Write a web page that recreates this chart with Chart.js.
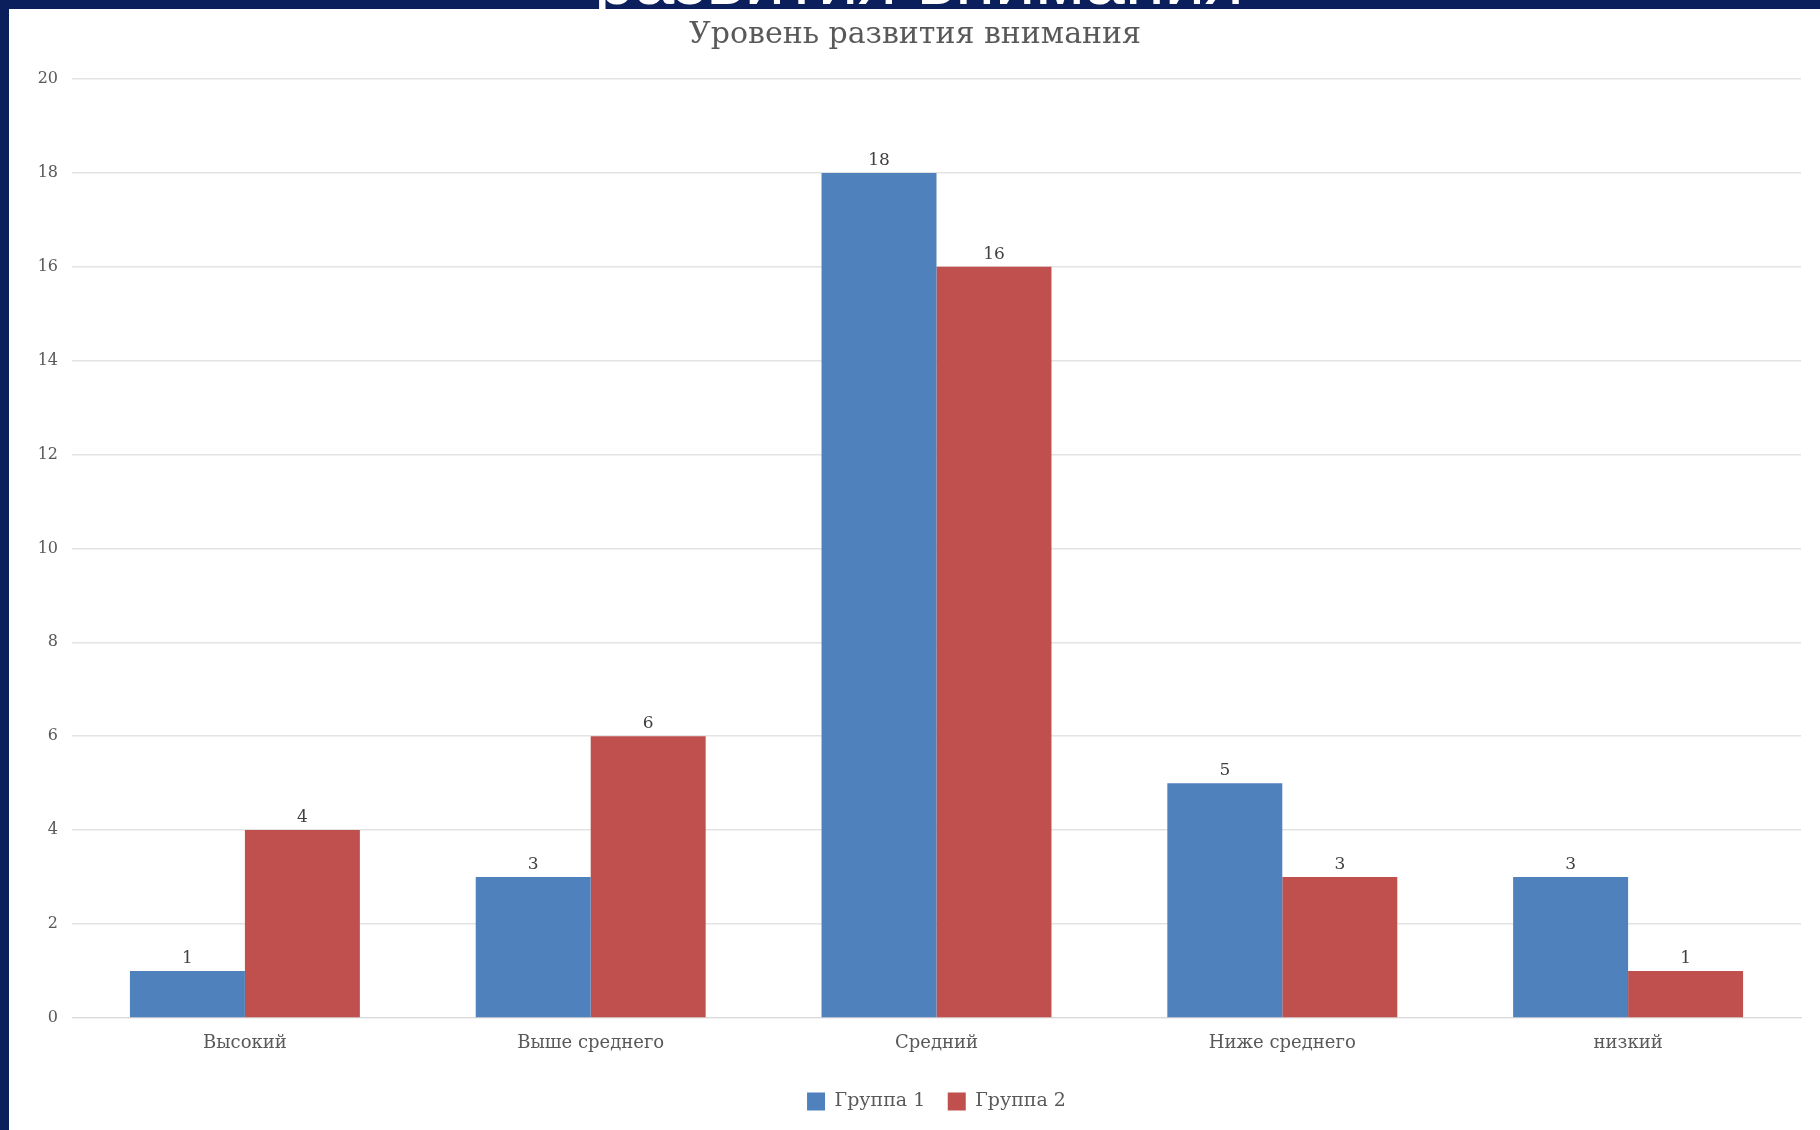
<!DOCTYPE html>
<html>
<head>
<meta charset="utf-8">
<script src="https://cdn.jsdelivr.net/npm/chart.js@4"></script>
<style>
    html, body { margin: 0; padding: 0; }
    body { width: 1820px; height: 1130px; background: #0b1f5c; position: relative; overflow: hidden; }
    #sheet { position: absolute; left: 9px; top: 9px; width: 1811px; height: 1121px; background: #fff; }
    #slideTitle {
        position: absolute; left: 0; top: 0; width: 1820px; height: 9px; overflow: hidden;
    }
    #slideTitle span {
        position: absolute; left: 0; width: 1838px; top: -57px; text-align: center;
        font-family: "Liberation Sans", Arial, sans-serif; font-size: 72px; line-height: 1; color: #fff;
    }
    #myChart { position: absolute; left: 9px; top: 9px; }
</style>
</head>
<body>
<div id="sheet"></div>
<div id="slideTitle"><span>развития внимания</span></div>
<canvas id="myChart" width="1811" height="1121"></canvas>

<script>
// data
var categories = ['Высокий', 'Выше среднего', 'Средний', 'Ниже среднего', 'низкий'];
var group1 = [1, 3, 18, 5, 3];
var group2 = [4, 6, 16, 3, 1];
var seriesNames = ['Группа 1', 'Группа 2'];
var yTicks = [0, 2, 4, 6, 8, 10, 12, 14, 16, 18, 20];

var textColor = '#595959';
var serif = '"DejaVu Serif", "Liberation Serif", serif';

// value labels above each bar
var barValues = {
    id: 'barValues',
    afterDatasetsDraw(chart) {
        var ctx = chart.ctx;
        ctx.save();
        ctx.font = '17px ' + serif;
        ctx.fillStyle = '#404040';
        ctx.textAlign = 'center';
        ctx.textBaseline = 'bottom';
        chart.data.datasets.forEach((ds, i) => {
            chart.getDatasetMeta(i).data.forEach((bar, j) => {
                ctx.fillText(ds.data[j], bar.x, bar.y - 4);
            });
        });
        ctx.restore();
    }
};

document.addEventListener("DOMContentLoaded", () => {
    var ctx = document.getElementById('myChart').getContext('2d');
    var chart = new Chart(ctx, {
        type: 'bar',
        data: {
            labels: categories,
            datasets: [{
                label: seriesNames[0],
                backgroundColor: '#4f81bd',
                data: group1
            },
            {
                label: seriesNames[1],
                backgroundColor: '#c0504d',
                data: group2
            }]
        },
        options: {
            responsive: false,
            animation: false,
            categoryPercentage: 0.665,
            barPercentage: 1,
            layout: {
                // a bit of left padding nudges the title right, the y axis is narrowed to match
                padding: { left: 20, right: 19, top: 0, bottom: 9 }
            },
            plugins: {
                title: {
                    display: true,
                    text: 'Уровень развития внимания',
                    color: textColor,
                    font: { family: serif, size: 30, weight: 'normal' },
                    padding: { top: 8, bottom: 26 }
                },
                legend: {
                    position: 'bottom',
                    fullSize: false,
                    labels: {
                        color: textColor,
                        font: { family: serif, size: 19 },
                        boxWidth: 18,
                        boxHeight: 18,
                        padding: 22.5
                    }
                },
                tooltip: { enabled: false }
            },
            scales: {
                x: {
                    grid: { display: false, drawTicks: false },
                    border: { display: true, color: '#d9d9d9' },
                    ticks: { color: textColor, font: { family: serif, size: 18 }, padding: 15 }
                },
                y: {
                    min: 0,
                    max: 20,
                    afterBuildTicks: scale => { scale.ticks = yTicks.map(v => ({ value: v })); },
                    afterFit: scale => { scale.width = 43; },
                    grid: { color: '#e3e3e3', drawTicks: false, lineWidth: 1.5 },
                    border: { display: false },
                    ticks: { color: textColor, font: { family: serif, size: 16 }, padding: 14 }
                }
            }
        },
        plugins: [barValues]
    });
});
</script>
</body>
</html>
